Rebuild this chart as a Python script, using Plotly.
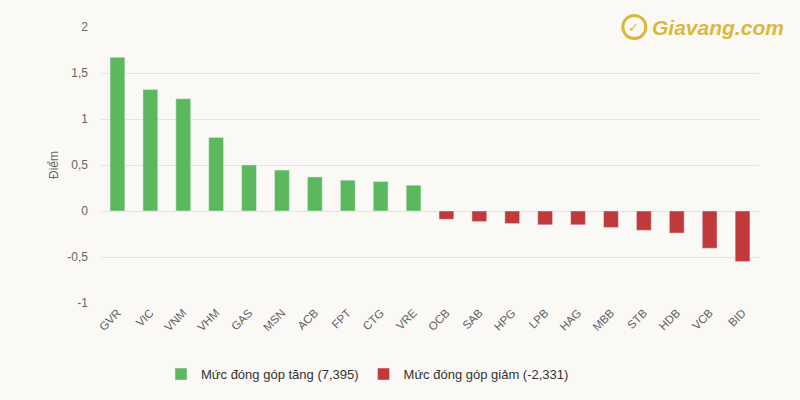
import plotly.graph_objects as go

# Đóng góp điểm của các cổ phiếu vào VN-Index
up_codes = ["GVR", "VIC", "VNM", "VHM", "GAS", "MSN", "ACB", "FPT", "CTG", "VRE"]
up_values = [1.67, 1.32, 1.22, 0.80, 0.50, 0.445, 0.37, 0.335, 0.32, 0.28]

down_codes = ["OCB", "SAB", "HPG", "LPB", "HAG", "MBB", "STB", "HDB", "VCB", "BID"]
down_values = [-0.09, -0.115, -0.137, -0.15, -0.15, -0.18, -0.21, -0.24, -0.405, -0.55]

up_total = "7,395"
down_total = "-2,331"

y_ticks = [-1, -0.5, 0, 0.5, 1, 1.5, 2]
y_labels = ["-1", "-0,5", "0", "0,5", "1", "1,5", "2"]

GREEN = "#5cb85c"
RED = "#c0393b"
BG = "#faf9f6"
GRID = "#e4e4e4"
GOLD = "#dcb83a"
FONT = "Liberation Sans, Arial, sans-serif"

fig = go.Figure()
fig.add_bar(
    name=f"Mức đóng góp tăng ({up_total})",
    x=up_codes,
    y=up_values,
    marker_color=GREEN,
)
fig.add_bar(
    name=f"Mức đóng góp giảm ({down_total})",
    x=down_codes,
    y=down_values,
    marker_color=RED,
)

fig.update_layout(
    width=800,
    height=400,
    margin=dict(l=101, r=41, t=27, b=96),
    paper_bgcolor=BG,
    plot_bgcolor=BG,
    barmode="relative",
    bargap=0.55,
    separators=",.",
    font=dict(family=FONT, color="#666666", size=12),
    legend=dict(
        orientation="h",
        x=0.405,
        xanchor="center",
        y=-0.253,
        yanchor="middle",
        font=dict(size=13, color="#333333"),
        itemwidth=30,
    ),
    xaxis=dict(
        categoryorder="array",
        categoryarray=up_codes + down_codes,
        tickangle=-45,
        tickfont=dict(size=11.5, color="#606060"),
        showgrid=False,
        showline=False,
        ticks="",
    ),
    yaxis=dict(
        range=[-1, 2],
        tickvals=y_ticks,
        ticktext=y_labels,
        gridcolor=GRID,
        zerolinecolor=GRID,
        zerolinewidth=1,
        tickfont=dict(size=12, color="#666666"),
        title=dict(text="Điểm", font=dict(size=12, color="#666666"), standoff=6),
        ticklabelstandoff=12,
    ),
)

# Logo Giavang.com
fig.add_shape(
    type="rect",
    xref="paper", yref="paper",
    x0=0.785, x1=1.0, y0=0.95, y1=1.05,
    line=dict(width=0),
    fillcolor=BG,
    layer="above",
)
fig.add_shape(
    type="circle",
    xref="paper", yref="paper",
    x0=0.793, x1=0.828, y0=0.958, y1=1.042,
    line=dict(color=GOLD, width=3),
    fillcolor="rgba(0,0,0,0)",
    layer="above",
)
fig.add_annotation(
    xref="paper", yref="paper",
    x=0.810, y=1.0,
    xanchor="center", yanchor="middle",
    text="<b>✓</b>",
    showarrow=False,
    font=dict(family="DejaVu Sans", size=13, color=GOLD),
)
fig.add_annotation(
    xref="paper", yref="paper",
    x=0.834, y=1.0,
    xanchor="left", yanchor="middle",
    text="<b><i>Giavang.com</i></b>",
    showarrow=False,
    font=dict(family=FONT, size=21, color=GOLD),
)

fig.write_html(
    "out.html",
    config={"displayModeBar": False},
    post_script="document.body.style.margin='0';",
)
